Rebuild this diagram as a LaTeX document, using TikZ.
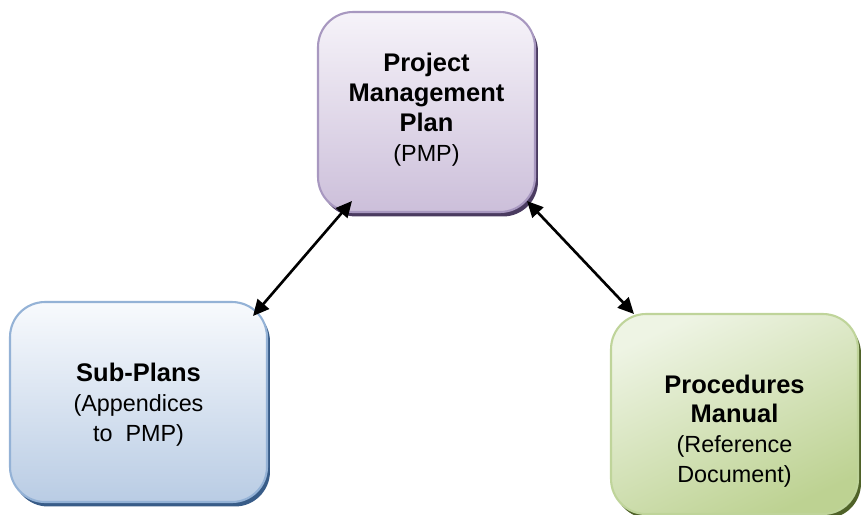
\documentclass[tikz,border=0pt]{standalone}
\usepackage{fontspec}
\setmainfont{Liberation Sans}
\usetikzlibrary{positioning, shadows, arrows.meta}

\newcommand{\headfont}{\fontsize{14.5}{17}\selectfont\bfseries}

\definecolor{pmpedge}{HTML}{A898C0}
\definecolor{pmptop}{HTML}{F6F3F9}
\definecolor{pmpbot}{HTML}{CCBFDA}
\definecolor{pmpshadow}{HTML}{4A3B60}
\definecolor{subedge}{HTML}{94B2D6}
\definecolor{subtop}{HTML}{F8FAFD}
\definecolor{subbot}{HTML}{B9CCE4}
\definecolor{subshadow}{HTML}{385C88}
\definecolor{procedge}{HTML}{BFD49A}
\definecolor{proctop}{HTML}{EEF4E4}
\definecolor{procbot}{HTML}{BDD292}
\definecolor{procshadow}{HTML}{4F6228}

\begin{document}
\begin{tikzpicture}[x=0.02cm, y=-0.02cm,
    planbox/.style={rounded corners=0.7cm, line width=1.2pt, minimum height=4cm},
    boxtext/.style={align=center, font=\fontsize{13.3}{17}\selectfont},
    link/.style={{Triangle[length=0.32cm, width=0.3cm]}-{Triangle[length=0.32cm, width=0.3cm]}, line width=1.5pt}]
                    \useasboundingbox (0, 0) rectangle (864, 514);

                    \node [planbox, minimum width=4.34cm, draw=pmpedge, top color=pmptop, bottom color=pmpbot,
                        drop shadow={shadow xshift=0.06cm, shadow yshift=-0.09cm, fill=pmpshadow, opacity=1}] (pmp) at (426.5, 112) {};
                    \node [planbox, minimum width=5.14cm, draw=subedge, top color=subtop, bottom color=subbot,
                        drop shadow={shadow xshift=0.06cm, shadow yshift=-0.09cm, fill=subshadow, opacity=1}] (sub) at (138.5, 402) {};
                    \node [planbox, minimum width=4.94cm, draw=procedge, top color=proctop, bottom color=procbot, shading angle=25,
                        drop shadow={shadow xshift=0.06cm, shadow yshift=-0.09cm, fill=procshadow, opacity=1}] (proc) at (734.5, 414) {};

                    \node [boxtext] (pmptext) at ([yshift=0.05cm]pmp.center) {{\headfont Project}\\{\headfont Management}\\{\headfont Plan}\\(PMP)};
                    \node [boxtext] (subtext) at ([yshift=-0.06cm]sub.center) {{\headfont Sub-Plans}\\(Appendices\\to~ PMP)};
                    \node [boxtext] (proctext) at ([yshift=-0.34cm]proc.center) {{\headfont Procedures}\\{\headfont Manual}\\(Reference\\Document)};

                    \coordinate (pmpleft) at (352, 201);
                    \coordinate (pmpright) at (527, 201);
                    \coordinate (subend) at (253, 316);
                    \coordinate (procend) at (634, 314);

                    \draw [link] (pmpleft) -- (subend);
                    \draw [link] (pmpright) -- (procend);
                \end{tikzpicture}
\end{document}
